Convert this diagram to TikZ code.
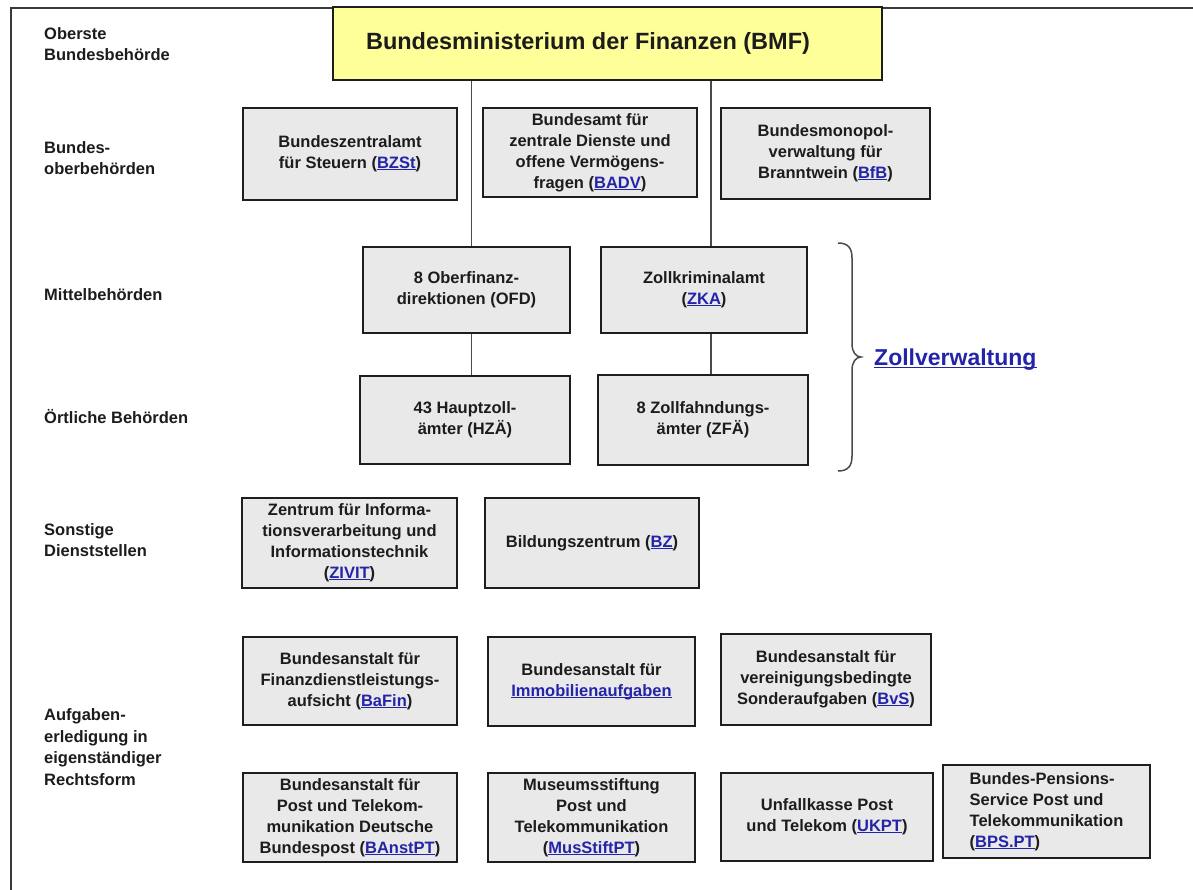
\documentclass[tikz,border=0pt]{standalone}
\usepackage{fontspec}
\setmainfont{Liberation Sans}
\definecolor{boxfill}{HTML}{E9E9E9}
\definecolor{boxline}{HTML}{1E1E1E}
\definecolor{bmffill}{HTML}{FFFF99}
\definecolor{connc}{HTML}{4A4A4A}
\definecolor{framec}{HTML}{3A3A3A}
\definecolor{txt}{HTML}{1C1C1C}
\definecolor{linkc}{HTML}{2424A8}
\newcommand{\ulk}[2]{\setbox0\hbox{#2}\rlap{\rule[-#1]{\wd0}{1pt}}\box0}
\newcommand{\lk}[1]{\textcolor{linkc}{\ulk{1.6pt}{#1}}}
\tikzset{
  box/.style={draw=boxline, line width=2.2pt, fill=boxfill, align=center, inner sep=2pt,
    font=\bfseries\fontsize{16.5}{21}\selectfont, text=txt},
  conn/.style={draw=connc, line width=1.5pt},
  lbl/.style={anchor=west, align=left, inner sep=0pt, text=txt,
    font=\bfseries\fontsize{16.5}{21.5}\selectfont},
  frameline/.style={draw=framec, line width=1.8pt},
}
\begin{document}
\begin{tikzpicture}[x=1pt,y=-1pt]
\useasboundingbox (0,0) rectangle (1193,890);
\fill[white] (0,0) rectangle (1193,890);
% frame
\coordinate (fbl) at (11,890);
\coordinate (ftl) at (11,8);
\coordinate (ftr) at (1193,8);
\draw[frameline] (fbl) -- (ftl) -- (ftr);

% top
\node[box, fill=bmffill, line width=2pt, minimum width=549, minimum height=73,
  font=\bfseries\fontsize{23.5}{28}\selectfont] (bmf) at (607.5,43.5)
  {Bundesministerium der Finanzen (BMF)\hspace*{39pt}};

% Bundesoberbehoerden
\node[box, minimum width=214, minimum height=92] (bzst) at (350,154)
  {Bundeszentralamt\\für Steuern (\lk{BZSt})};
\node[box, minimum width=214, minimum height=89] (badv) at (590,152.5)
  {Bundesamt für\\zentrale Dienste und\\offene Vermögens-\\fragen (\lk{BADV})};
\node[box, minimum width=209, minimum height=91] (bfb) at (825.5,153.5)
  {Bundesmonopol-\\verwaltung für\\Branntwein (\lk{BfB})};

% Mittelbehoerden / oertliche
\node[box, minimum width=207, minimum height=86] (ofd) at (466.5,290)
  {8 Oberfinanz-\\direktionen (OFD)};
\node[box, minimum width=206, minimum height=86] (zka) at (704,290)
  {Zollkriminalamt\\(\lk{ZKA})};
\node[box, minimum width=210, minimum height=88] (hza) at (465,420)
  {43 Hauptzoll-\\ämter (HZÄ)};
\node[box, minimum width=210, minimum height=90] (zfa) at (703,420)
  {8 Zollfahndungs-\\ämter (ZFÄ)};

% connectors
\coordinate (cl) at (471.5,0);
\coordinate (cr) at (711,0);
\draw[conn] (bmf.south -| cl) -- (ofd.north -| cl);
\draw[conn] (ofd.south -| cl) -- (hza.north -| cl);
\draw[conn] (bmf.south -| cr) -- (zka.north -| cr);
\draw[conn] (zka.south -| cr) -- (zfa.north -| cr);

% brace
\draw[draw=connc, line width=1.5pt]
  (838,243) .. controls (848,243) and (852,248) .. (852,258) -- (852,344)
  .. controls (852,352) and (856,357) .. (861,357)
  .. controls (856,357) and (852,362) .. (852,370) -- (852,456)
  .. controls (852,466) and (848,471) .. (838,471);
\node[anchor=west, inner sep=0pt, text=linkc, font=\bfseries\fontsize{23}{27}\selectfont]
  (zv) at (874,360) {\ulk{2pt}{Zollverwaltung}};

% Sonstige Dienststellen
\node[box, minimum width=215, minimum height=90] (zivit) at (349.5,543)
  {Zentrum für Informa-\\tionsverarbeitung und\\Informationstechnik\\(\lk{ZIVIT})};
\node[box, minimum width=214, minimum height=90] (bz) at (592,543)
  {Bildungszentrum (\lk{BZ})};

% Rechtsform
\node[box, minimum width=214, minimum height=88] (bafin) at (350,681)
  {Bundesanstalt für\\Finanzdienstleistungs-\\aufsicht (\lk{BaFin})};
\node[box, minimum width=207, minimum height=89] (immo) at (591.5,681.5)
  {Bundesanstalt für\\\lk{Immobilienaufgaben}};
\node[box, minimum width=210, minimum height=91] (bvs) at (826,679.5)
  {Bundesanstalt für\\vereinigungsbedingte\\Sonderaufgaben (\lk{BvS})};

\node[box, minimum width=214, minimum height=89] (banstpt) at (350,817.5)
  {Bundesanstalt für\\Post und Telekom-\\munikation Deutsche\\Bundespost (\lk{BAnstPT})};
\node[box, minimum width=207, minimum height=89] (musstift) at (591.5,817.5)
  {Museumsstiftung\\Post und\\Telekommunikation\\(\lk{MusStiftPT})};
\node[box, minimum width=212, minimum height=88] (ukpt) at (827,817)
  {Unfallkasse Post\\und Telekom (\lk{UKPT})};
\node[box, minimum width=207, minimum height=93, align=left] (bps) at (1046.5,811.5)
  {Bundes-Pensions-\\Service Post und\\Telekommunikation\\(\lk{BPS.PT})};

% level labels
\node[lbl] (l1) at (44,44) {Oberste\\Bundesbehörde};
\node[lbl] (l2) at (44,158) {Bundes-\\oberbehörden};
\node[lbl] (l3) at (44,295) {Mittelbehörden};
\node[lbl] (l4) at (44,417) {Örtliche Behörden};
\node[lbl] (l5) at (44,540) {Sonstige\\Dienststellen};
\node[lbl] (l6) at (44,747) {Aufgaben-\\erledigung in\\eigenständiger\\Rechtsform};
\end{tikzpicture}
\end{document}
